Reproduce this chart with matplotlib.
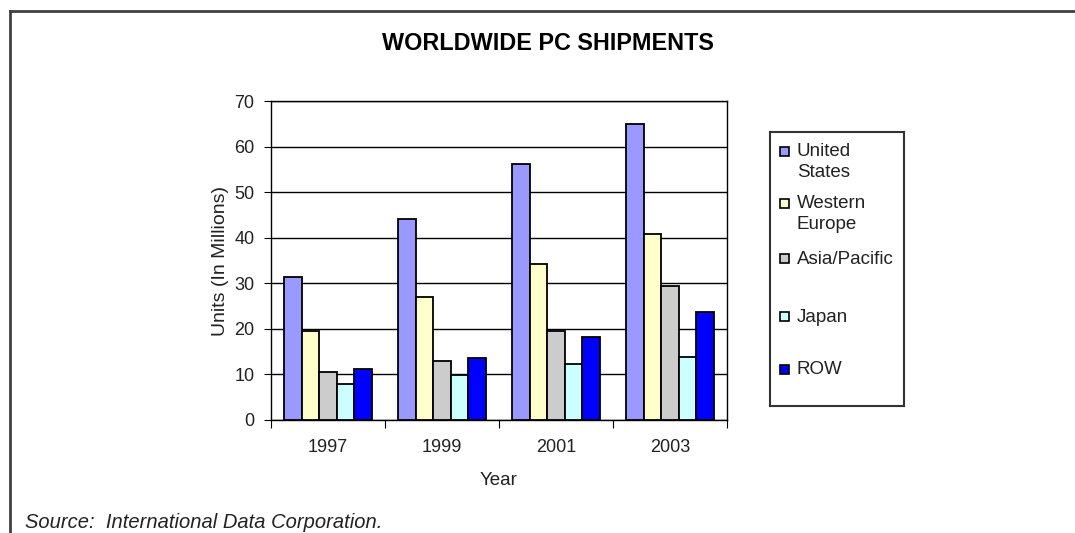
import numpy as np
import matplotlib
matplotlib.use("Agg")
import matplotlib.pyplot as plt
from matplotlib.patches import Rectangle
from matplotlib.lines import Line2D

plt.rcParams['font.family'] = ['Liberation Sans', 'DejaVu Sans']

# Shipments by region, units in millions
years = ['1997', '1999', '2001', '2003']
regions = ['United\nStates', 'Western\nEurope', 'Asia/Pacific', 'Japan', 'ROW']
united_states = [31.3, 44.1, 56.1, 64.9]
western_europe = [19.6, 27.0, 34.3, 40.9]
asia_pacific = [10.6, 13.0, 19.6, 29.3]
japan = [7.9, 9.9, 12.2, 13.9]
row = [11.1, 13.5, 18.2, 23.8]
colors = ['#9999ff', '#ffffcc', '#cccccc', '#ccffff', '#0000ff']

series = [united_states, western_europe, asia_pacific, japan, row]

W, H = 1075, 533
fig = plt.figure(figsize=(W / 100, H / 100), dpi=100)

# page frame (top and left edges only)
fig.add_artist(Line2D([10 / W, 1], [1 - 11 / H, 1 - 11 / H], color='#404040', lw=2))
fig.add_artist(Line2D([10 / W, 10 / W], [1 - 11 / H, 0], color='#404040', lw=2))

fig.text(548 / W, 1 - 44 / H, 'WORLDWIDE PC SHIPMENTS', ha='center', va='center',
         fontsize=16.8, fontweight='bold')

ax = fig.add_axes([271 / W, 1 - 420 / H, 456 / W, 319 / H])
x = np.arange(len(years))
width = 1 / 6.5
for i, (vals, c) in enumerate(zip(series, colors)):
    ax.bar(x + (i - 2) * width, vals, width, color=c, edgecolor='black', lw=1.3, zorder=3)

ax.set_xlim(-0.5, 3.5)
ax.set_ylim(0, 70)
ax.set_yticks(range(0, 71, 10))
ax.yaxis.grid(True, color='black', lw=1, zorder=0)
for s in ax.spines.values():
    s.set_color('black')
    s.set_linewidth(1)

# category boundaries get the tick marks, the labels sit at the centres
ax.set_xticks(np.arange(-0.5, 4, 1))
ax.set_xticklabels([])
ax.set_xticks(x, minor=True)
ax.set_xticklabels(years, minor=True)
ax.tick_params(axis='x', which='major', length=6, direction='out', color='black')
ax.tick_params(axis='x', which='minor', length=0, pad=14, labelsize=13, labelcolor='#222222')
ax.tick_params(axis='y', length=5, direction='out', pad=7, labelsize=13, labelcolor='#222222')

ax.set_xlabel('Year', fontsize=13.5, color='#222222', labelpad=11)
ax.set_ylabel('Units (In Millions)', fontsize=14, color='#222222', labelpad=4)

# legend box
lax = fig.add_axes([770 / W, 1 - 406 / H, 134 / W, 274 / H])
lax.set_xlim(0, 134)
lax.set_ylim(274, 0)
lax.set_xticks([])
lax.set_yticks([])
for s in lax.spines.values():
    s.set_color('#333333')
    s.set_linewidth(1.5)
entry_y = [19.5, 71.5, 126.5, 184.5, 237]
for lbl, c, yy in zip(regions, colors, entry_y):
    lax.add_patch(Rectangle((10, yy - 4.5), 9, 9, facecolor=c, edgecolor='black', lw=1.2))
    lax.text(27, yy - 8, lbl, va='top', ha='left', fontsize=13.5, color='#222222',
             linespacing=1.25)

fig.text(25 / W, 1 - 532 / H, 'Source:  International Data Corporation.',
         fontsize=14.5, style='italic', va='bottom', ha='left', color='#222222')

fig.savefig('out.png', dpi=100)
